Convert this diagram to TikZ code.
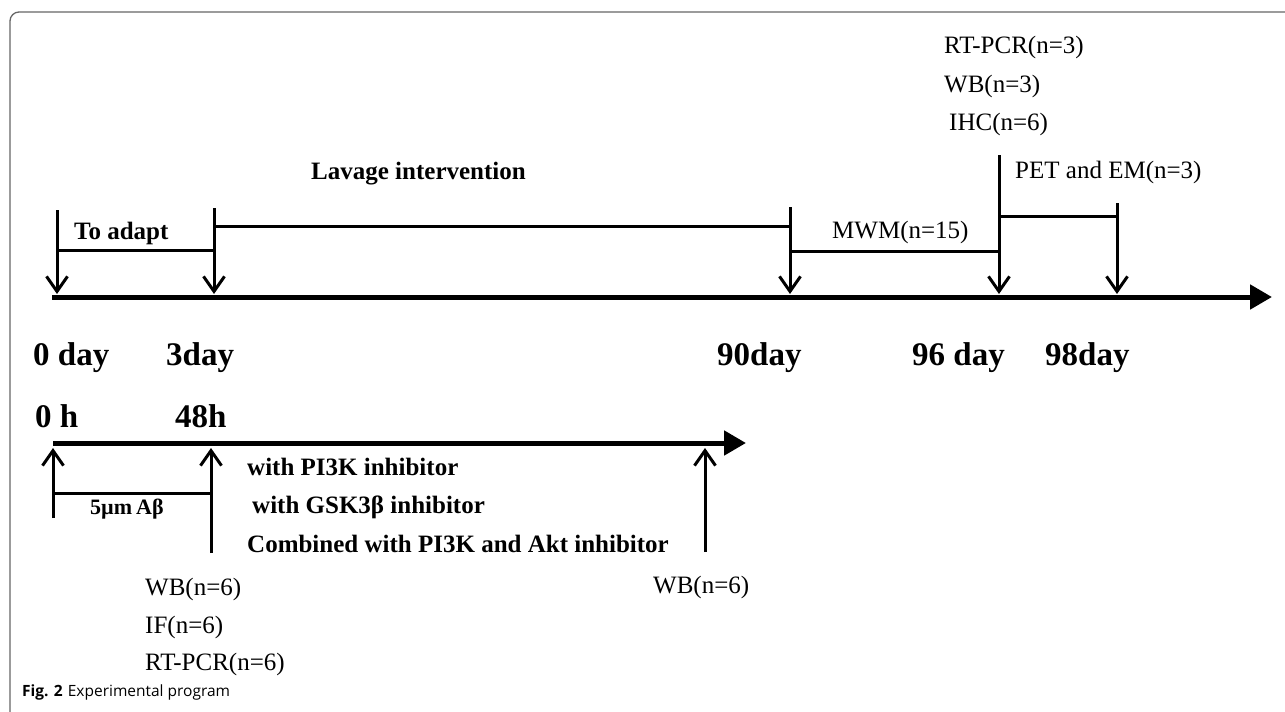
\documentclass[tikz,border=0pt]{standalone}
\usepackage{fontspec}
\setmainfont{Liberation Serif}
\setsansfont{Open Sans}
\usetikzlibrary{arrows.meta}

\tikzset{
  lbl/.style={anchor=base west, inner sep=0pt, font=\fontsize{25}{28}\selectfont},
  blbl/.style={lbl, font=\fontsize{25}{28}\selectfont\bfseries},
  daylbl/.style={lbl, font=\fontsize{33}{36}\selectfont\bfseries},
  axis/.style={line width=5pt, -{Triangle[length=22pt,width=24pt]}},
  probe/.style={line width=3pt, -{Straight Barb[length=15pt,width=21pt,line width=3pt]}},
  spanline/.style={line width=3pt},
}

\begin{document}
\begin{tikzpicture}[x=1pt, y=-1pt]
\useasboundingbox (0,0) rectangle (1285,712);

% frame
\draw[black!60, line width=1.3pt, rounded corners=9pt] (10,712) -- (10,12) -- (1285,12);

%%% animal timeline
\coordinate (a0) at (52,297);
\coordinate (a1) at (1272,297);
\coordinate (d0) at (57,294);    \coordinate (d0t) at (57,210);
\coordinate (d3) at (214,294);   \coordinate (d3t) at (214,208);
\coordinate (d90) at (790,294);  \coordinate (d90t) at (790,207);
\coordinate (d96) at (999,294);  \coordinate (d96t) at (999,155);
\coordinate (d98) at (1117,294); \coordinate (d98t) at (1117,203);

\draw[axis] (a0) -- (a1);
\draw[probe] (d0t) -- (d0);
\draw[probe] (d3t) -- (d3);
\draw[probe] (d90t) -- (d90);
\draw[probe] (d96t) -- (d96);
\draw[probe] (d98t) -- (d98);

\draw[spanline] (57,250) -- (214,250);
\draw[spanline] (214,226) -- (790,226);
\draw[spanline] (790,251) -- (999,251);
\draw[spanline] (999,216) -- (1117,216);

\node[blbl] (adapt) at (74,239) {To adapt};
\node[blbl] (lavage) at (311,179) {Lavage intervention};
\node[lbl] (mwm) at (832,238) {MWM(n=15)};
\node[lbl] (pet) at (1015,178) {PET and EM(n=3)};
\node[lbl] (pcr1) at (944,53) {RT-PCR(n=3)};
\node[lbl] (wb1) at (944,92) {WB(n=3)};
\node[lbl] (ihc1) at (949,130) {IHC(n=6)};

\node[daylbl] (l0) at (33,365) {0 day};
\node[daylbl] (l3) at (166,365) {3day};
\node[daylbl] (l90) at (717,365) {90day};
\node[daylbl] (l96) at (912,365) {96 day};
\node[daylbl] (l98) at (1045,365) {98day};

%%% cell timeline
\coordinate (c0) at (53,443);
\coordinate (c1) at (746,443);
\coordinate (h0) at (53,448);   \coordinate (h0b) at (53,518);
\coordinate (h48) at (211,448); \coordinate (h48b) at (211,553);
\coordinate (hw) at (705,448);  \coordinate (hwb) at (705,552);

\node[daylbl] (lh0) at (35,427) {0 h};
\node[daylbl] (lh48) at (175,427) {48h};

\draw[axis] (c0) -- (c1);
\draw[probe] (h0b) -- (h0);
\draw[probe] (h48b) -- (h48);
\draw[probe] (hwb) -- (hw);
\draw[spanline] (53,493) -- (211,493);

\node[anchor=base west, inner sep=0pt, font=\fontsize{22}{24}\selectfont\bfseries] (abeta) at (90,514) {5µm\hspace{4pt}Aβ};
\node[blbl] (pi3k) at (247,475) {with PI3K inhibitor};
\node[blbl] (gsk) at (252,513) {with GSK3β inhibitor};
\node[blbl] (comb) at (247,552) {Combined with PI3K and Akt inhibitor};

\node[lbl] (wb2) at (145,595) {WB(n=6)};
\node[lbl] (if2) at (145,633) {IF(n=6)};
\node[lbl] (pcr2) at (145,670) {RT-PCR(n=6)};
\node[lbl] (wb3) at (653,593) {WB(n=6)};

% caption
\node[anchor=base west, inner sep=0pt, font=\sffamily\fontsize{15.5}{18}\selectfont] (cap) at (22,696)
  {\textbf{Fig. 2}\hspace{5pt}Experimental program};
\end{tikzpicture}
\end{document}
